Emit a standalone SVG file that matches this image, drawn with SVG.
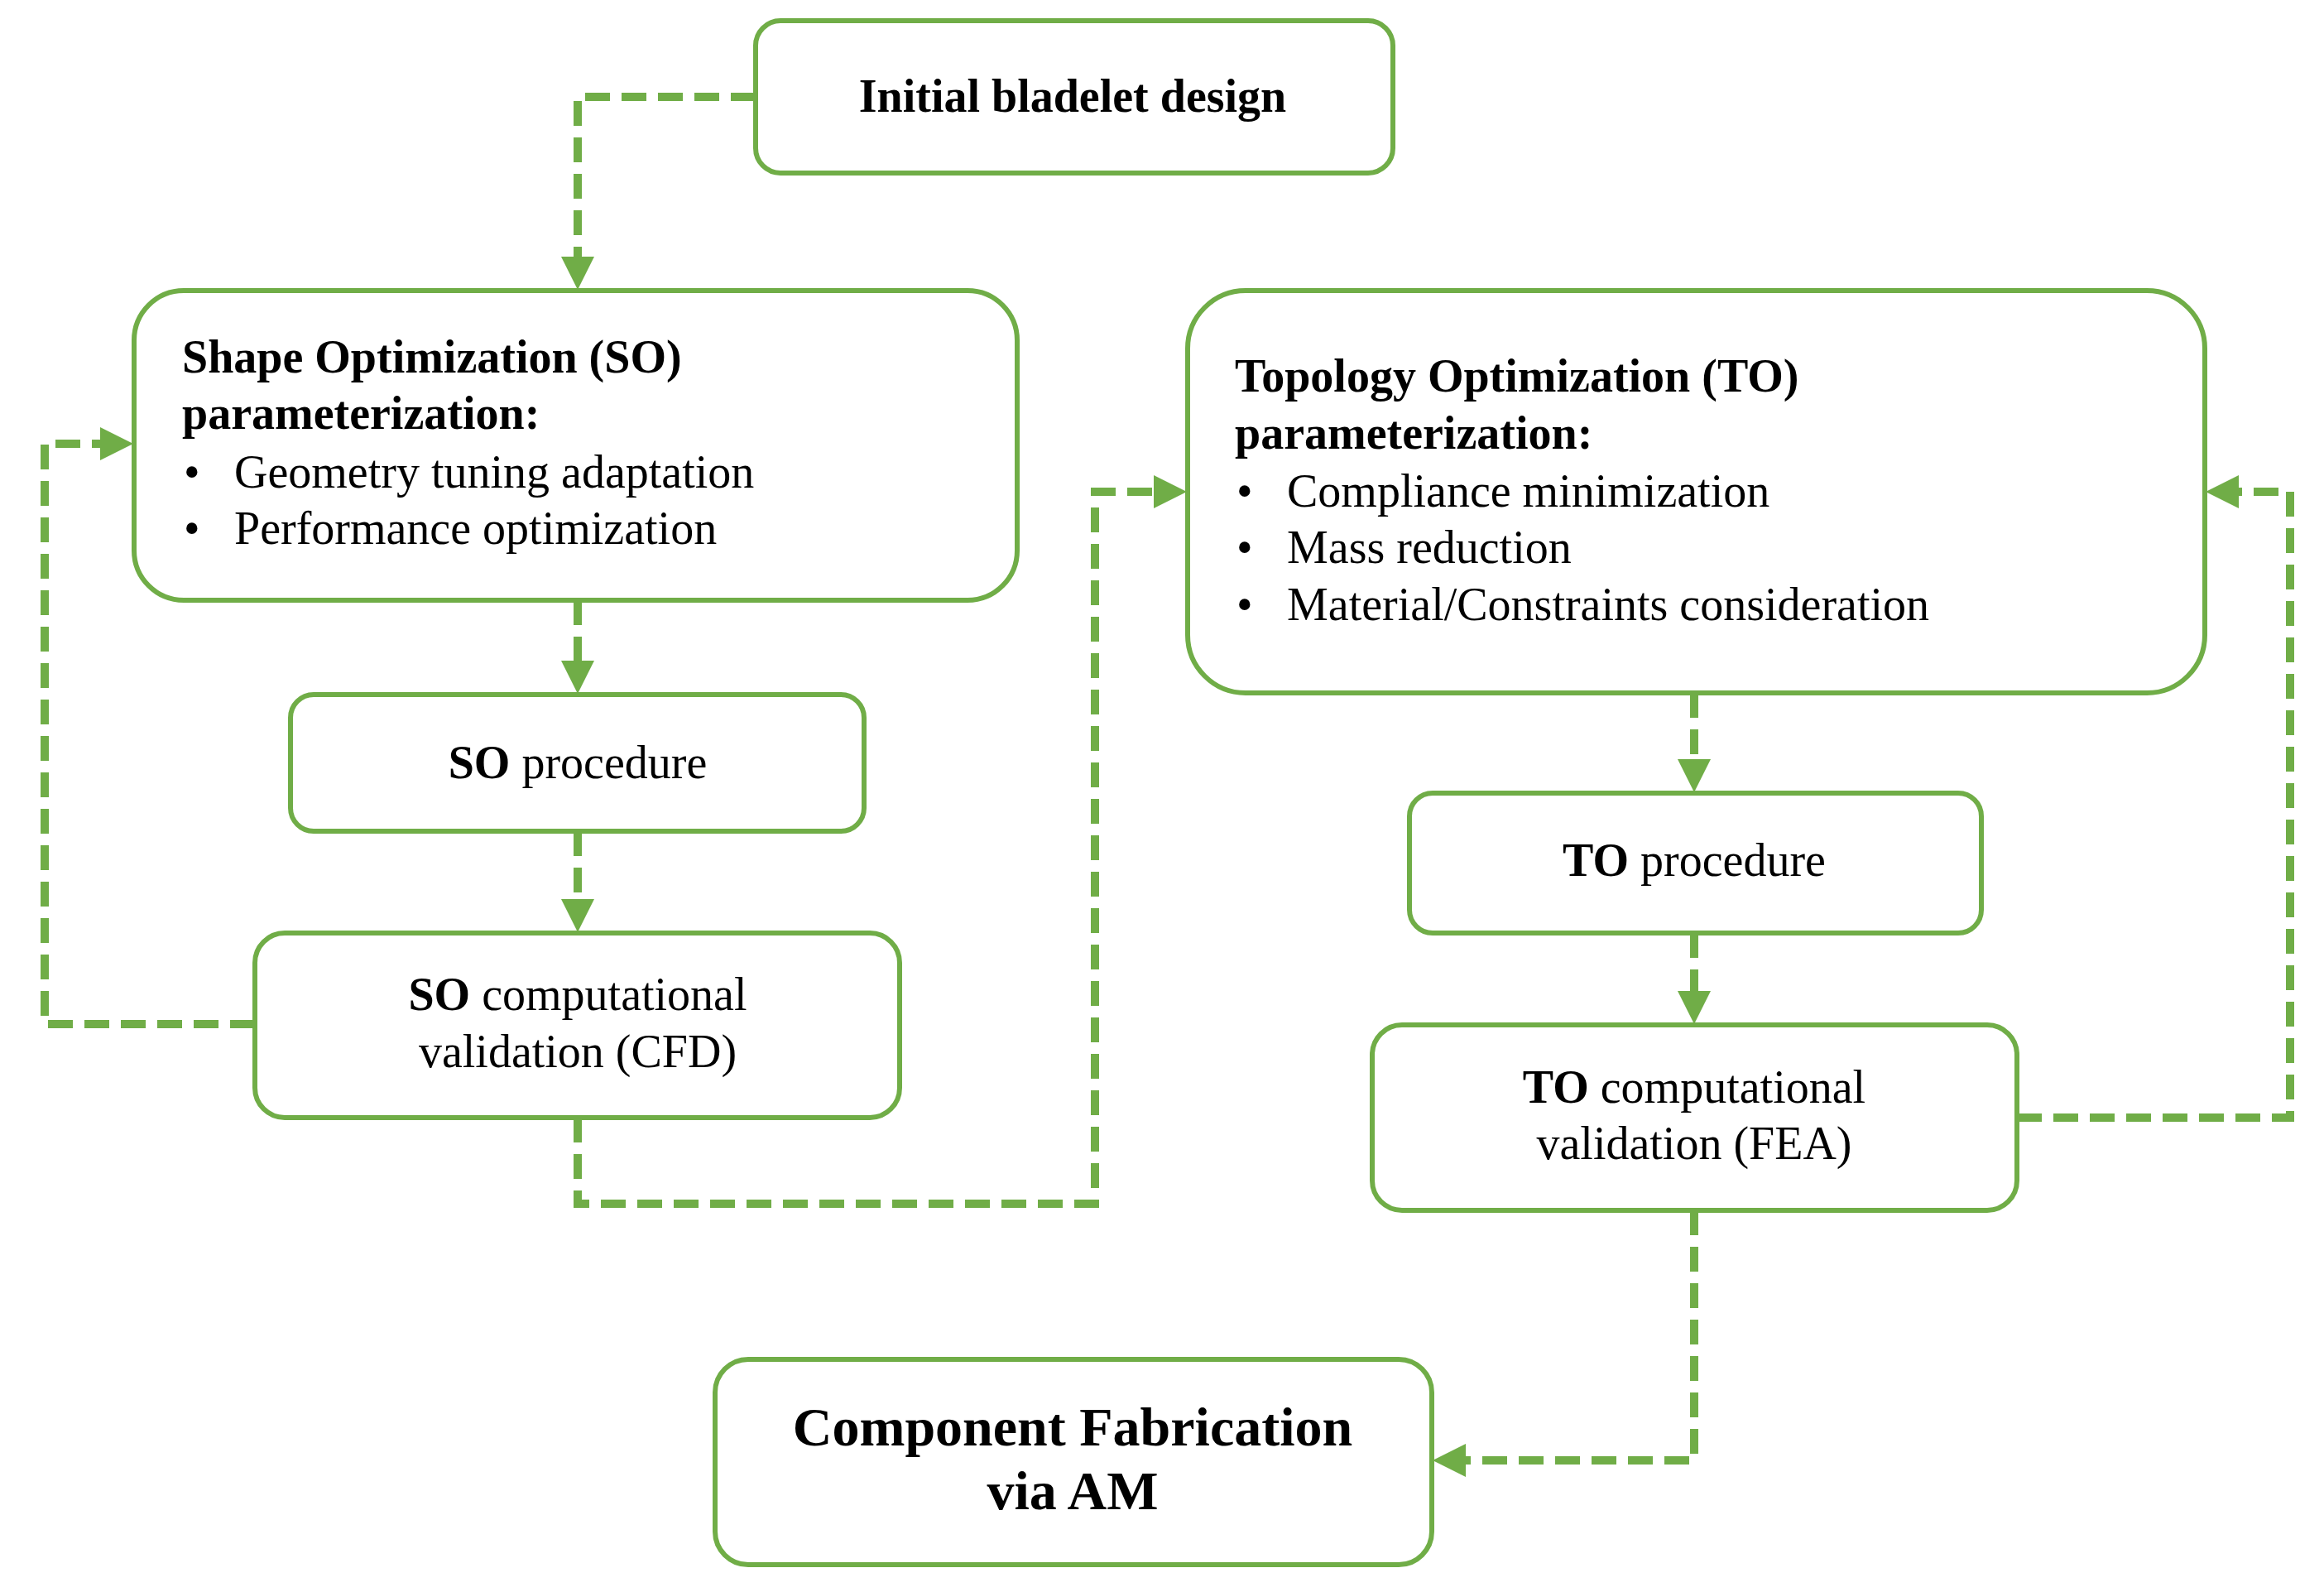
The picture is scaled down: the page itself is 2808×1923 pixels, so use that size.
<svg xmlns="http://www.w3.org/2000/svg" width="2808" height="1923" viewBox="0 0 2808 1923">
<style>
.box{fill:#fff;stroke:#70AD47;stroke-width:6}
.c{fill:none;stroke:#70AD47;stroke-width:10;stroke-dasharray:30 14}
text{font-family:"Liberation Serif",serif;font-size:56px;fill:#000}
.b{font-weight:bold}
.m{text-anchor:middle}
</style>
<defs><marker id="ah" markerWidth="4" markerHeight="4" refX="3" refY="2" orient="auto" markerUnits="strokeWidth"><path d="M0,0 L4,2 L0,4 z" fill="#70AD47"/></marker></defs>
<rect width="2808" height="1923" fill="#fff"/>
<g id="connectors">
<path class="c" d="M913,117 H698 V340" marker-end="url(#ah)"/>
<path class="c" d="M698,725 V828" marker-end="url(#ah)"/>
<path class="c" d="M698,1004 V1116" marker-end="url(#ah)"/>
<path class="c" d="M308,1237 H54 V536 H151" marker-end="url(#ah)"/>
<path class="c" d="M698,1350 V1454 H1323 V594 H1424" marker-end="url(#ah)"/>
<path class="c" d="M2047,837 V947" marker-end="url(#ah)"/>
<path class="c" d="M2047,1127 V1227" marker-end="url(#ah)"/>
<path class="c" d="M2437,1350 H2767 V594 H2675" marker-end="url(#ah)"/>
<path class="c" d="M2047,1462 V1764 H1741" marker-end="url(#ah)"/>
</g>
<g id="initial"><rect class="box" x="913" y="25" width="770" height="184" rx="30"/><text class="b m" x="1296" y="135">Initial  bladelet  design</text></g>
<g id="so_param"><rect class="box" x="162" y="351" width="1067" height="374" rx="60"/>
<text class="b" x="220" y="450">Shape Optimization  (SO)</text>
<text class="b" x="220" y="518">parameterization:</text>
<text x="222" y="589">•</text><text x="283" y="589">Geometry tuning adaptation</text>
<text x="222" y="657">•</text><text x="283" y="657">Performance optimization</text></g>
<g id="so_proc"><rect class="box" x="351" y="839" width="693" height="165" rx="28"/><text class="m" x="698" y="940"><tspan class="b">SO</tspan> procedure</text></g>
<g id="so_comp"><rect class="box" x="308" y="1127" width="779" height="223" rx="36"/><text class="m" x="698" y="1220"><tspan class="b">SO</tspan> computational</text><text class="m" x="698" y="1289">validation (CFD)</text></g>
<g id="to_param"><rect class="box" x="1435" y="351" width="1229" height="486" rx="70"/>
<text class="b" x="1492" y="473">Topology Optimization  (TO)</text>
<text class="b" x="1492" y="542">parameterization:</text>
<text x="1494" y="612">•</text><text x="1555" y="612">Compliance minimization</text>
<text x="1494" y="680">•</text><text x="1555" y="680">Mass reduction</text>
<text x="1494" y="749">•</text><text x="1555" y="749">Material/Constraints consideration</text></g>
<g id="to_proc"><rect class="box" x="1703" y="958" width="691" height="169" rx="28"/><text class="m" x="2047" y="1058"><tspan class="b">TO</tspan> procedure</text></g>
<g id="to_comp"><rect class="box" x="1658" y="1238" width="779" height="224" rx="36"/><text class="m" x="2047" y="1332"><tspan class="b">TO</tspan> computational</text><text class="m" x="2047" y="1400">validation (FEA)</text></g>
<g id="fab"><rect class="box" x="864" y="1642" width="866" height="248" rx="40"/><text class="b m" x="1296" y="1746" style="font-size:66px">Component Fabrication</text><text class="b m" x="1296" y="1823" style="font-size:66px">via AM</text></g>
</svg>
